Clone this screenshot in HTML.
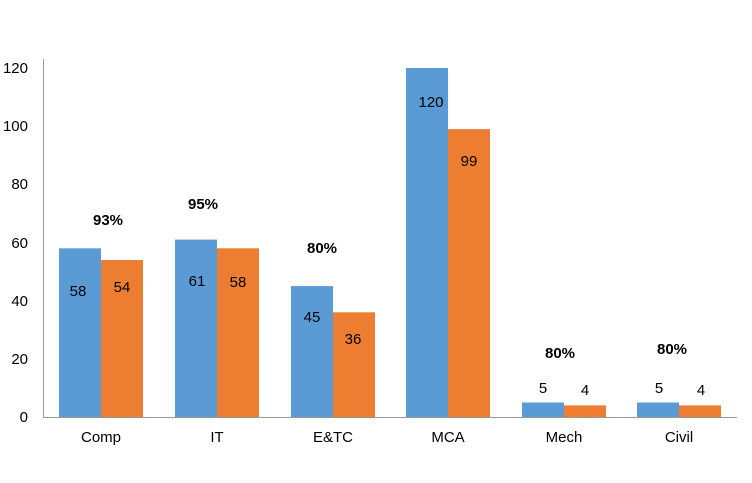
<!DOCTYPE html>
<html><head><meta charset="utf-8"><style>body{margin:0;background:#fff}svg{display:block}text{font-family:"Liberation Sans",sans-serif;fill:#000}</style></head><body>
<svg width="752" height="483" viewBox="0 0 752 483">
<line x1="43.5" y1="59" x2="43.5" y2="417" stroke="#999" stroke-width="1"/>
<g font-size="15" text-anchor="end">
<text x="28" y="73">120</text><text x="28" y="131">100</text><text x="28" y="189">80</text><text x="28" y="248">60</text><text x="28" y="306">40</text><text x="28" y="364">20</text><text x="28" y="422">0</text>
</g>
<g fill="#5B9BD5">
<rect x="59" y="248.3" width="42" height="168.7"/>
<rect x="175" y="239.6" width="42" height="177.4"/>
<rect x="291" y="286.1" width="42" height="130.9"/>
<rect x="406" y="68" width="42" height="349"/>
<rect x="522" y="402.5" width="42" height="14.5"/>
<rect x="637" y="402.5" width="42" height="14.5"/>
</g>
<g fill="#ED7D31">
<rect x="101" y="260" width="42" height="157"/>
<rect x="217" y="248.3" width="42" height="168.7"/>
<rect x="333" y="312.3" width="42" height="104.7"/>
<rect x="448" y="129.1" width="42" height="287.9"/>
<rect x="564" y="405.4" width="42" height="11.6"/>
<rect x="679" y="405.4" width="42" height="11.6"/>
</g>
<line x1="43" y1="417.5" x2="737" y2="417.5" stroke="#999" stroke-width="1"/>
<g font-size="15" text-anchor="middle">
<text x="78" y="296">58</text><text x="122" y="292">54</text>
<text x="197" y="286">61</text><text x="238" y="287">58</text>
<text x="312" y="322">45</text><text x="353" y="344">36</text>
<text x="431" y="107">120</text><text x="469" y="166">99</text>
<text x="543" y="393">5</text><text x="585" y="395">4</text>
<text x="659" y="393">5</text><text x="701" y="395">4</text>
</g>
<g font-size="15" font-weight="bold" text-anchor="middle">
<text x="108" y="225">93%</text><text x="203" y="209">95%</text><text x="322" y="253">80%</text><text x="560" y="358">80%</text><text x="672" y="354">80%</text>
</g>
<g font-size="15" text-anchor="middle">
<text x="101" y="442">Comp</text><text x="217" y="442">IT</text><text x="333" y="442">E&amp;TC</text><text x="448" y="442">MCA</text><text x="564" y="442">Mech</text><text x="679" y="442">Civil</text>
</g>
</svg>
</body></html>
